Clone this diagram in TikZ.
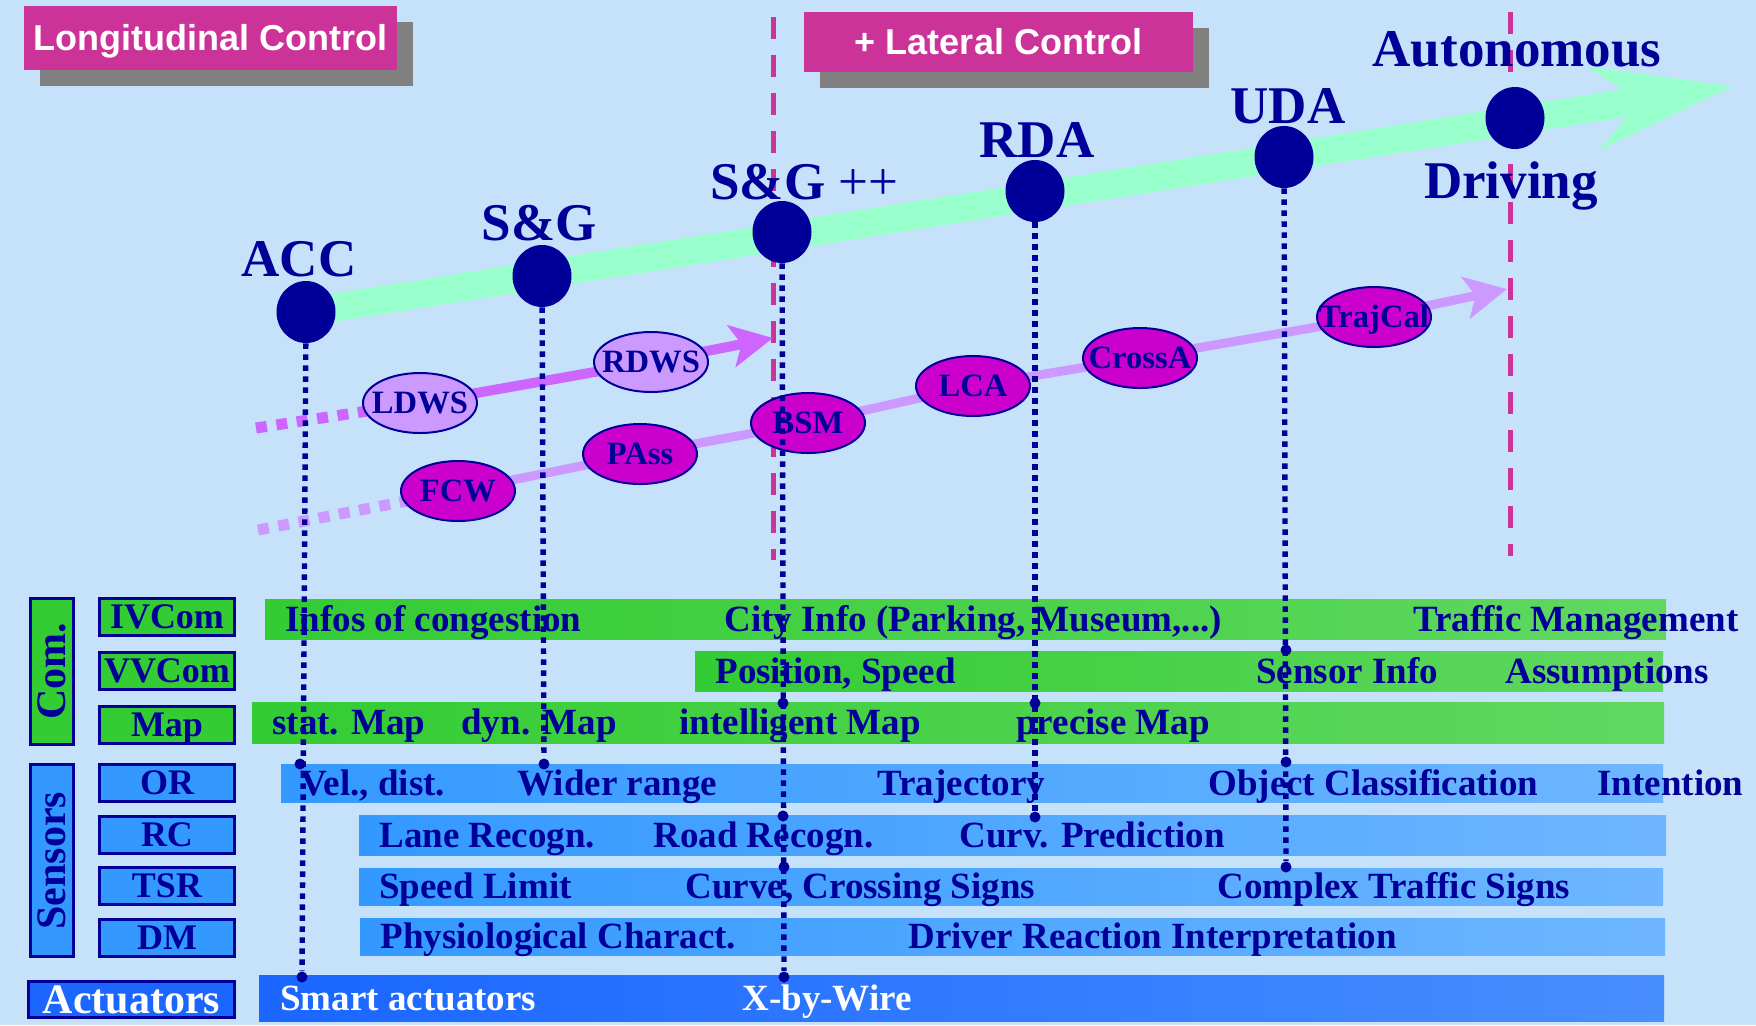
\documentclass[tikz,border=0pt]{standalone}
\usepackage{fontspec}
\setmainfont{Liberation Serif}
\newfontfamily\boxfont{Liberation Sans}
\usetikzlibrary{arrows.meta,shapes.geometric,shadows,backgrounds}
\definecolor{adasnavy}{RGB}{0,0,153}
\definecolor{bgsky}{RGB}{198,226,250}
\definecolor{phasemag}{RGB}{204,51,153}
\definecolor{shadowgray}{RGB}{128,128,128}
\definecolor{mintroad}{RGB}{153,255,204}
\definecolor{warnviolet}{RGB}{204,102,255}
\definecolor{lilac}{RGB}{204,153,255}
\definecolor{funcmag}{RGB}{204,0,204}
\definecolor{comgreen}{RGB}{51,204,51}
\definecolor{comgreenlt}{RGB}{96,216,96}
\definecolor{senblue}{RGB}{51,153,255}
\definecolor{senbluelt}{RGB}{110,182,255}
\definecolor{actblue}{RGB}{26,102,255}
\definecolor{actbluelt}{RGB}{72,142,255}
\newcommand{\fname}[1]{\makebox[0pt]{#1}}

\begin{document}
\begin{tikzpicture}[x=0.5pt,y=-0.5pt,
  every node/.style={inner sep=0pt},
  stagedot/.style={ellipse,fill=adasnavy,minimum width=29.5pt,minimum height=31pt},
  stagelabel/.style={anchor=base,text=adasnavy,font=\fontsize{26.5}{30}\selectfont\bfseries},
  phasebox/.style={fill=phasemag,text=white,font=\boxfont\fontsize{18}{20}\selectfont\bfseries,
    text height=12.9pt,text depth=0pt,
    drop shadow={shadow xshift=8pt,shadow yshift=-8pt,fill=shadowgray,opacity=1}},
  funcnode/.style={ellipse,draw=adasnavy,line width=1pt,minimum width=57pt,minimum height=30pt,
    text=adasnavy,text height=10.6pt,text depth=0pt,font=\fontsize{16.3}{18}\selectfont\bfseries},
  warnfunc/.style={funcnode,fill=lilac},
  assistfunc/.style={funcnode,fill=funcmag},
  rowbox/.style={draw=adasnavy,line width=1.5pt,minimum width=67.5pt,minimum height=18.5pt,
    text=adasnavy,text height=11.9pt,text depth=0pt,font=\fontsize{18}{20}\selectfont\bfseries},
  groupbox/.style={rowbox,rotate=90,minimum height=21.5pt,text height=13.9pt,
    font=\fontsize{21}{24}\selectfont\bfseries},
  rowtext/.style={anchor=base west,text=adasnavy,font=\fontsize{18.5}{20}\selectfont\bfseries},
  acttext/.style={rowtext,text=white},
  grnbar/.style={left color=comgreen,right color=comgreenlt},
  blubar/.style={left color=senblue,right color=senbluelt},
  actbar/.style={left color=actblue,right color=actbluelt},
  pindot/.style={circle,fill=adasnavy,minimum size=5.5pt},
  stagerule/.style={adasnavy,line width=2.7pt,dash pattern=on 2.7pt off 2.8pt},
  phaserule/.style={phasemag,line width=2.5pt,dash pattern=on 11pt off 8pt},
  mintshaft/.style={mintroad,line width=14pt,-{Stealth[length=69.5pt,width=41pt,inset=22.5pt]}},
  warntrail/.style={warnviolet,line width=5.5pt,dash pattern=on 5.5pt off 4.8pt},
  warnpath/.style={warnviolet,line width=5pt,-{Stealth[length=21pt,width=21pt,inset=5pt]}},
  assisttrail/.style={lilac,line width=5.5pt,dash pattern=on 5.5pt off 4.8pt},
  assistpath/.style={lilac,line width=4.5pt,-{Stealth[length=21pt,width=21pt,inset=5pt]}}]
\useasboundingbox (0,0) rectangle (1756,1025);

\node[phasebox,minimum width=186.5pt,minimum height=32pt] (longbox) at (210.5,38) {Longitudinal Control};
\node[phasebox,minimum width=194.5pt,minimum height=30pt] (latbox) at (998.5,42) {+ Lateral Control};

\node[stagedot] (acc) at (306,312) {};
\node[stagedot] (sg) at (542,276) {};
\node[stagedot] (sgpp) at (782,232) {};
\node[stagedot] (rda) at (1035,191) {};
\node[stagedot] (uda) at (1284,157) {};
\node[stagedot] (auto) at (1515,118) {};
\coordinate (roadtip) at (1733,86);

\node[stagelabel] (acclbl) at (299,276) {ACC};
\node[stagelabel] (sglbl) at (539,240) {S\&G};
\node[stagelabel,anchor=base west] (sgpplbl) at (710,199) {S\&G {\mdseries ++}};
\node[stagelabel] (rdalbl) at (1037,157) {RDA};
\node[stagelabel] (udalbl) at (1288,123) {UDA};
\node[stagelabel] (autolbl) at (1517,66) {Autonomous};
\node[stagelabel] (drivlbl) at (1511,198) {Driving};

\node[warnfunc] (ldws) at (420,403) {\fname{LDWS}};
\node[warnfunc] (rdws) at (651,362) {\fname{RDWS}};
\coordinate (warnfrom) at (256,428);
\coordinate (warnto) at (773,338);

\node[assistfunc] (fcw) at (458,491) {\fname{FCW}};
\node[assistfunc] (pass) at (640,454) {\fname{PAss}};
\node[assistfunc] (bsm) at (808,423) {\fname{BSM}};
\node[assistfunc] (lca) at (973,386) {\fname{LCA}};
\node[assistfunc] (crossa) at (1140,358) {\fname{CrossA}};
\node[assistfunc] (trajcal) at (1374,317) {\fname{TrajCal}};
\coordinate (assistfrom) at (258,530);
\coordinate (assistto) at (1507,289);

% rows
\fill[grnbar] (265,599) rectangle (1666,639);
\fill[grnbar] (695,651) rectangle (1663,691);
\fill[grnbar] (252,702) rectangle (1664,743);
\fill[blubar] (281,764) rectangle (1663,802);
\fill[blubar] (359,815) rectangle (1666,855);
\fill[blubar] (359,868) rectangle (1663,905);
\fill[blubar] (360,918) rectangle (1665,955);
\fill[actbar] (259,975) rectangle (1664,1021);

\node[groupbox,fill=comgreen,minimum width=73pt] (comgrp) at (52,671.5) {Com.};
\node[groupbox,fill=senblue,minimum width=96pt] (sengrp) at (52,860.5) {Sensors};
\node[rowbox,fill=comgreen] (ivcom) at (167,617) {IVCom};
\node[rowbox,fill=comgreen] (vvcom) at (167,670.5) {VVCom};
\node[rowbox,fill=comgreen] (map) at (167,724.5) {Map};
\node[rowbox,fill=senblue] (or) at (167,783) {OR};
\node[rowbox,fill=senblue] (rc) at (167,835) {RC};
\node[rowbox,fill=senblue] (tsr) at (167,886) {TSR};
\node[rowbox,fill=senblue] (dm) at (167,937.5) {DM};
\node[rowbox,fill=actblue,text=white,minimum width=103pt,minimum height=18pt,text height=13.9pt,
  font=\fontsize{21}{24}\selectfont\bfseries] (actgrp) at (131.5,999.5) {Actuators};

\node[rowtext] (ivcomA) at (285,631) {Infos of congestion};
\node[rowtext] (ivcomB) at (724,631) {City Info (Parking, Museum,...)};
\node[rowtext] (ivcomC) at (1413,631) {Traffic Management};
\node[rowtext] (vvcomA) at (715,683) {Position, Speed};
\node[rowtext] (vvcomB) at (1256,683) {Sensor Info};
\node[rowtext] (vvcomC) at (1505,683) {Assumptions};
\node[rowtext] (mapA) at (272,734.5) {stat. Map};
\node[rowtext] (mapB) at (461,734.5) {dyn. Map};
\node[rowtext] (mapC) at (679,734.5) {intelligent Map};
\node[rowtext] (mapD) at (1016,734.5) {precise Map};
\node[rowtext] (orA) at (300,795) {Vel., dist.};
\node[rowtext] (orB) at (517,795) {Wider range};
\node[rowtext] (orC) at (877,795) {Trajectory};
\node[rowtext] (orD) at (1208,795) {Object Classification};
\node[rowtext] (orE) at (1597,795) {Intention};
\node[rowtext] (rcA) at (379,847) {Lane Recogn.};
\node[rowtext] (rcB) at (653,847) {Road Recogn.};
\node[rowtext] (rcC) at (959,847) {Curv. Prediction};
\node[rowtext] (tsrA) at (379,898.5) {Speed Limit};
\node[rowtext] (tsrB) at (685,898.5) {Curve, Crossing Signs};
\node[rowtext] (tsrC) at (1217,898.5) {Complex Traffic Signs};
\node[rowtext] (dmA) at (380,948.5) {Physiological Charact.};
\node[rowtext] (dmB) at (908,948.5) {Driver Reaction Interpretation};
\node[acttext] (actA) at (280,1010) {Smart actuators};
\node[acttext] (actB) at (742,1010) {X-by-Wire};

% stage drops
\node[pindot] (accor) at (300,764) {};
\node[pindot] (accact) at (302,977) {};
\node[pindot] (sgor) at (544,764) {};
\node[pindot] (sgppmap) at (783,703) {};
\node[pindot] (sgpprc) at (783,816) {};
\node[pindot] (sgpptsr) at (784,867) {};
\node[pindot] (sgppact) at (784,977) {};
\node[pindot] (rdamap) at (1035,703) {};
\node[pindot] (rdarc) at (1035,817) {};
\node[pindot] (udavv) at (1286,650) {};
\node[pindot] (udaor) at (1286,762) {};
\node[pindot] (udatsr) at (1286,867) {};
\draw[stagerule] (acc) -- (accact);
\draw[stagerule] (sg) -- (sgor);
\draw[stagerule] (sgpp) -- (sgppact);
\draw[stagerule] (rda) -- (rdarc);
\draw[stagerule] (uda) -- (udatsr);

\begin{scope}[on background layer]
\fill[bgsky] (0,0) rectangle (1756,1025);
\draw[phaserule] (773,17) -- (773,560);
\draw[phaserule] (1510,12) -- (1510,556);
\draw[mintshaft] (acc.center) -- (roadtip);
\draw[warntrail] (warnfrom) -- (ldws.center);
\draw[warnpath] (ldws.center) -- (rdws.center) -- (warnto);
\draw[assisttrail] (assistfrom) -- (fcw.center);
\draw[assistpath] (fcw.center) -- (pass.center) -- (bsm.center) -- (lca.center)
  -- (crossa.center) -- (trajcal.center) -- (assistto);
\end{scope}
\end{tikzpicture}
\end{document}
